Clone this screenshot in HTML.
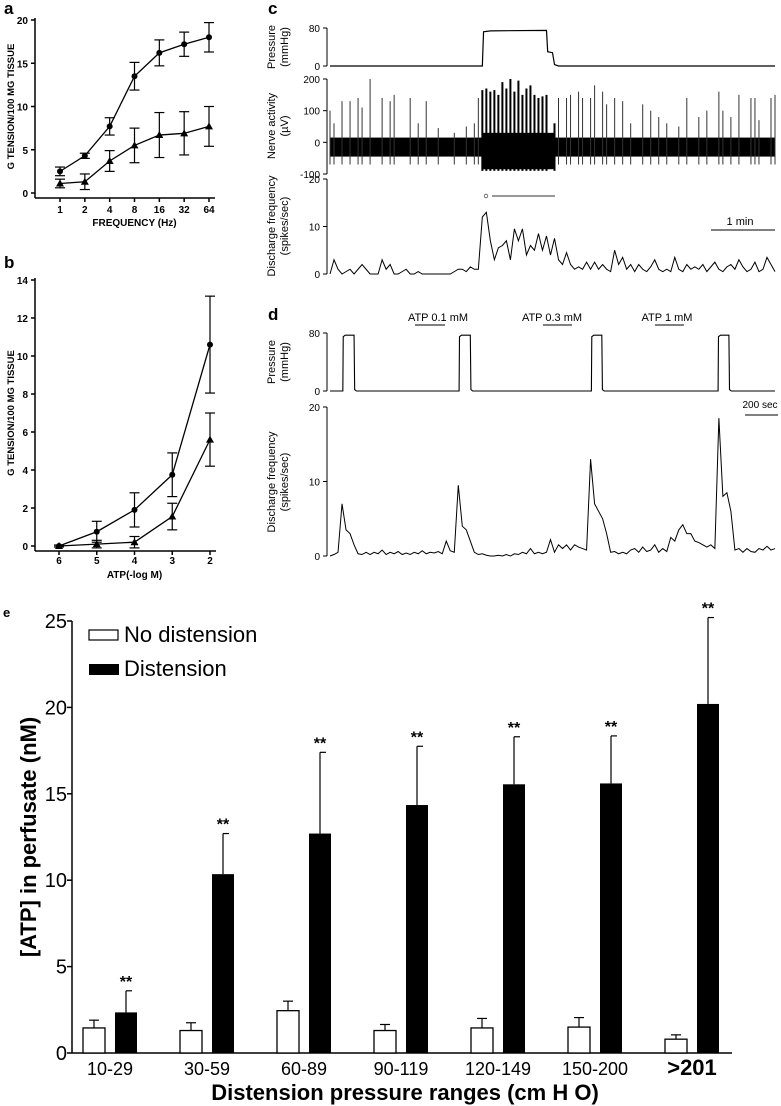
<!DOCTYPE html>
<html><head><meta charset="utf-8"><style>
html,body{margin:0;padding:0;background:#fff}
svg{display:block}
text{font-family:"Liberation Sans",sans-serif;fill:#000}
.b{font-weight:bold}
.n{font-family:"Liberation Sans Narrow","Liberation Sans",sans-serif}
</style></head><body>
<svg id="fig" width="781" height="1106" viewBox="0 0 781 1106" xmlns="http://www.w3.org/2000/svg"></svg>
<script>
// ---------- Panel a data ----------
const aFreq = ["1","2","4","8","16","32","64"];
const aCircle = [2.5,4.3,7.7,13.5,16.2,17.2,18.0];
const aCircleErr = [0.5,0.3,1.0,1.6,1.5,1.4,1.7];
const aTri = [1.1,1.3,3.7,5.5,6.7,6.9,7.7];
const aTriErr = [0.5,0.9,1.2,2.0,2.6,2.5,2.3];
const aTicks = [0,5,10,15,20];
// ---------- Panel b data ----------
const bConc = ["6","5","4","3","2"];
const bCircle = [0,0.75,1.9,3.75,10.6];
const bCircleErr = [0.05,0.55,0.9,1.15,2.55];
const bTri = [0,0.1,0.2,1.55,5.6];
const bTriErr = [0.05,0.2,0.3,0.7,1.4];
const bTicks = [0,2,4,6,8,10,12,14];
// ---------- Panel c data (time index step) ----------
const cPressT = [0,38,38.3,40,54,54.3,55.5,56,57,111];
const cPressV = [0,0,72,74,75,30,28,3,0,0];
const cSpikes = [100,60,0,130,0,130,0,140,110,0,200,0,0,140,0,130,150,0,0,0,140,0,60,0,130,0,0,45,0,0,0,30,0,0,50,0,60,140,165,170,160,165,150,190,170,200,160,195,150,170,180,150,140,145,150,0,60,140,0,140,150,0,160,140,0,140,180,0,160,120,0,140,0,130,0,60,0,0,120,0,100,0,80,0,60,0,0,50,0,140,0,0,80,0,100,0,0,160,100,0,80,0,150,0,0,140,140,70,0,0,140,150];
const cDischarge = [0,3,1,0,0.5,1,0,1,2,1,0,0,0,3,1,2,0,0,0.5,1,0,0,0.5,0,0,0,0,0,0,0,0,0.5,1,1,0.5,1.5,1,1,12,13,7,3,5.5,6,7,3,9.5,7,9.5,4,6,5,8.5,5,8,4,7.5,3,2,4.5,2,1,1.5,1,2.5,1,2.5,1,2,1,0.5,5,2,3.5,1,2,0.5,2,1,0.5,1.5,3,1,0.5,1,0.5,3.5,1,0.5,2,1,1.5,1,2,0.5,1.5,2.5,1,0.5,1.5,2,1,3,1.5,0.5,1,2.5,0.5,1,3.5,2,0.5];
// ---------- Panel d data ----------
const dPulseStart = [3.2,32.2,65.2,96.8];
const dPulseEnd = [6.0,35.0,67.8,99.5];
const dDischarge = [0,0.2,0.5,7,3.5,3,1.5,0.3,0.2,0.5,0.2,0.5,0.3,0.8,0.2,0.5,0.3,0.6,0.2,0.4,0.2,0.5,0.3,0.7,0.3,0.5,0.4,0.6,0.3,2,0.7,0.5,9.5,4,3.5,2,0.5,0.2,0.3,0.1,0,0,0.1,0,0.2,0,0.3,0.2,0.5,0.3,1,0.3,0.5,0.3,0.5,2.2,0.5,1.5,1,1.5,0.8,1.5,1.2,1,0.8,13,7,6,5,3,0.5,0.6,0.3,0.5,0.3,0.8,1,0.5,1.2,0.6,0.8,1.5,0.5,1,0.6,2.5,2,3.5,4.2,3,3,2,1.8,1.5,1.2,1.5,1,18.5,8,8.5,6,0.8,1,0.5,1,0.6,0.5,1,0.8,1.3,0.8,1];
// ---------- Panel e data ----------
const eCats = ["10-29","30-59","60-89","90-119","120-149","150-200",">201"];
const eNoDist = [1.45,1.3,2.45,1.3,1.45,1.5,0.8];
const eNoDistTop = [1.9,1.75,3.0,1.65,2.0,2.05,1.05];
const eDist = [2.35,10.35,12.7,14.35,15.55,15.6,20.2];
const eDistTop = [3.6,12.7,17.4,17.75,18.3,18.35,25.2];
const eTicks = [0,5,10,15,20,25];

const svg = document.getElementById('fig');
const NS = 'http://www.w3.org/2000/svg';
function mk(tag, attrs, parent){ const e=document.createElementNS(NS,tag); for(const k in attrs) e.setAttribute(k,attrs[k]); (parent||svg).appendChild(e); return e; }
function txt(s, attrs, parent){ const e=mk('text',attrs,parent); e.textContent=s; return e; }
function line(x1,y1,x2,y2,w,parent,col){ return mk('line',{x1,y1,x2,y2,stroke:col||'#000','stroke-width':w||1},parent); }

// ===== Panel labels =====
[['a',4,14],['b',4,268],['c',268,14],['d',268,320],['e',3,617]].forEach(p=>{
  const t=txt(p[0],{x:p[1],y:p[2],class:'b','font-size':p[0]==='e'?13:17});
  
  
});

// ===== Line chart helper for a, b =====
function lineChart(g, cats, s1, e1, s2, e2, ticks, ymax, x0, x1, yTop, yBot, axisY, xTitle, titleY, labY){
  const ax=35;
  const sx=i=>x0+(x1-x0)*i/(cats.length-1);
  const sy=v=>yBot-(yBot-yTop)*v/ymax;
  line(ax,yTop-2,ax,axisY,1.5,g);
  line(ax,axisY,x1+6,axisY,1.5,g);
  ticks.forEach(t=>{ line(ax-4,sy(t),ax,sy(t),1.5,g);
    const l=txt(String(t),{x:ax-7,y:sy(t)+4,'text-anchor':'end','font-size':10,class:'b'},g);
      });
  cats.forEach((c,i)=>{ line(sx(i),axisY,sx(i),axisY+4,1.5,g);
    const l=txt(c,{x:sx(i),y:labY,'text-anchor':'middle','font-size':10,class:'b'},g);
      });
  const xt=txt(xTitle,{x:(x0+x1)/2,y:titleY,'text-anchor':'middle','font-size':10,class:'b'},g);
   
  const yt=txt('G TENSION/100 MG TISSUE',{x:0,y:0,'text-anchor':'middle','font-size':9.5,class:'b',transform:`translate(14,${(yTop+yBot)/2}) rotate(-90)`},g);
   
  [[s1,e1,'circle'],[s2,e2,'triangle']].forEach(([s,e,kind])=>{
    const pts=s.map((v,i)=>sx(i)+','+sy(v)).join(' ');
    const pl=mk('polyline',{points:pts,fill:'none',stroke:'#000','stroke-width':1.3},g);
     
    s.forEach((v,i)=>{
      const x=sx(i);
      line(x,sy(v+e[i]),x,sy(v-e[i]),1.2,g);
      line(x-5,sy(v+e[i]),x+5,sy(v+e[i]),1.2,g);
      line(x-5,sy(v-e[i]),x+5,sy(v-e[i]),1.2,g);
      let m;
      if(kind==='circle') m=mk('circle',{cx:x,cy:sy(v),r:3,fill:'#000'},g);
      else m=mk('polygon',{points:`${x},${sy(v)-4} ${x-4},${sy(v)+3} ${x+4},${sy(v)+3}`,fill:'#000'},g);
       
    });
  });
}
const gA=mk('g',{});  
lineChart(gA,aFreq,aCircle,aCircleErr,aTri,aTriErr,aTicks,20,60,209,20,193,198,'FREQUENCY (Hz)',226,213);
const gB=mk('g',{});  
lineChart(gB,bConc,bCircle,bCircleErr,bTri,bTriErr,bTicks,14,59,210,280,546,551,'ATP(-log M)',578,564);

// ===== Trace helpers =====
const TX0=330, TX1=775, TN=111;
const tx=i=>TX0+(TX1-TX0)*i/TN;
function yAxis(g,x,yTop,yBot,ticks,vmin,vmax,fs){
  const sy=v=>yBot-(yBot-yTop)*(v-vmin)/(vmax-vmin);
  line(x,yTop,x,yBot,1,g);
  ticks.forEach(t=>{ line(x-4,sy(t),x,sy(t),1,g);
    const l=txt(String(t),{x:x-7,y:sy(t)+4,'text-anchor':'end','font-size':fs||10},g);
      });
  return sy;
}
function vTitle(g,lines,x,yc){
  lines.forEach((s,k)=>{ const t=txt(s,{x:0,y:0,'text-anchor':'middle','font-size':11,transform:`translate(${x+k*13},${yc}) rotate(-90)`},g);
      });
}

// ===== Panel c =====
const gC=mk('g',{});  
const cpY=yAxis(gC,327,28,66,[0,80],0,80);
vTitle(gC,['Pressure','(mmHg)'],275,47);
const cp=mk('polyline',{points:cPressT.map((t,i)=>tx(t)+','+cpY(cPressV[i])).join(' '),fill:'none',stroke:'#000','stroke-width':1.2},gC);
 
const cnY=yAxis(gC,327,79,174,[200,100,0,-100],-100,200);
vTitle(gC,['Nerve activity','(µV)'],275,126);
const band=mk('rect',{x:TX0,y:cnY(15),width:TX1-TX0,height:cnY(-45)-cnY(15),fill:'#000'},gC);
 
const burst=mk('rect',{x:tx(38),y:cnY(30),width:tx(56)-tx(38),height:cnY(-85)-cnY(30),fill:'#000'},gC);
 
cSpikes.forEach((v,i)=>{ if(v>0){ const inB=i>=38&&i<=56;
  const s=line(tx(i),cnY(v),tx(i),cnY(inB?-90:-70),inB?2:1,gC,inB?'#000':'#333');
    }});
const cdY=yAxis(gC,327,179,274,[0,10,20],0,20);
vTitle(gC,['Discharge frequency','(spikes/sec)'],275,226);
const cd=mk('polyline',{points:cDischarge.map((v,i)=>tx(i)+','+cdY(v)).join(' '),fill:'none',stroke:'#000','stroke-width':1},gC);
 
const oc=mk('circle',{cx:486,cy:196,r:1.8,fill:'none',stroke:'#555','stroke-width':0.8},gC);
 
const gl=line(492,196,555,196,1.5,gC,'#777');  
const sb=line(711,230,775,230,1,gC);  
const sbt=txt('1 min',{x:740,y:225,'text-anchor':'middle','font-size':11},gC);  

// ===== Panel d =====
const gD=mk('g',{});  
const dpY=yAxis(gD,327,333,391,[0,80],0,80);
vTitle(gD,['Pressure','(mmHg)'],275,362);
let pp=[[0,0]];
dPulseStart.forEach((s,k)=>{ pp.push([s,0],[s+0.1,75],[s+0.6,77],[dPulseEnd[k],77],[dPulseEnd[k]+0.15,2],[dPulseEnd[k]+0.6,0]); });
pp.push([TN,0]);
const dp=mk('polyline',{points:pp.map(p=>tx(p[0])+','+dpY(p[1])).join(' '),fill:'none',stroke:'#000','stroke-width':1.1},gD);
 
const ddY=yAxis(gD,327,407,556,[0,10,20],0,20);
vTitle(gD,['Discharge frequency','(spikes/sec)'],275,482);
const dd=mk('polyline',{points:dDischarge.map((v,i)=>tx(i)+','+ddY(v)).join(' '),fill:'none',stroke:'#000','stroke-width':1},gD);
 
[['ATP 0.1 mM',438,415,445],['ATP 0.3 mM',552,543,572],['ATP 1 mM',667,655,684]].forEach(a=>{
  const t=txt(a[0],{x:a[1],y:321,'text-anchor':'middle','font-size':11},gD);  
  const l=line(a[2],325,a[3],325,1,gD);  
});
const sb2=line(745,415,778,415,1,gD);  
const sb2t=txt('200 sec',{x:760,y:408,'text-anchor':'middle','font-size':10},gD);  

// ===== Panel e =====
const gE=mk('g',{});  
const eAx=72, eY0=1053, eYT=621, eMax=25;
const ey=v=>eY0-(eY0-eYT)*v/eMax;
const ex=i=>110+97*i;
line(eAx,eYT,eAx,eY0,1.5,gE);
line(eAx,eY0,732,eY0,1.5,gE);
eTicks.forEach(t=>{ line(eAx-5,ey(t),eAx,ey(t),1.5,gE);
  const l=txt(String(t),{x:eAx-5,y:ey(t)+7,'text-anchor':'end','font-size':20,class:'n'},gE);
    });
eCats.forEach((c,i)=>{
  const last=i===eCats.length-1;
  const l=txt(c,{x:ex(i),y:1075,'text-anchor':'middle','font-size':last?22:18,class:'n'+(last?' b':'')},gE);
   
  const cx1=ex(i)-16, cx2=ex(i)+16;
  // no distension
  line(cx1,ey(eNoDist[i]),cx1,ey(eNoDistTop[i]),1.2,gE); line(cx1-5,ey(eNoDistTop[i]),cx1+5,ey(eNoDistTop[i]),1.2,gE);
  const w=mk('rect',{x:cx1-11,y:ey(eNoDist[i]),width:22,height:eY0-ey(eNoDist[i]),fill:'#fff',stroke:'#000','stroke-width':1.3},gE);
   
  // distension
  line(cx2,ey(eDist[i]),cx2,ey(eDistTop[i]),1.2,gE); line(cx2,ey(eDistTop[i]),cx2+6,ey(eDistTop[i]),1.2,gE);
  const b=mk('rect',{x:cx2-11,y:ey(eDist[i]),width:22,height:eY0-ey(eDist[i]),fill:'#000'},gE);
   
  const s=txt('**',{x:cx2,y:ey(eDistTop[i])-4,'text-anchor':'middle','font-size':16,class:'b'},gE);
   
});
const eyt=txt('[ATP] in perfusate (nM)',{x:0,y:0,'text-anchor':'middle','font-size':22,class:'b',transform:`translate(36,${(eYT+eY0)/2}) rotate(-90)`},gE);
 
const ext=txt('Distension pressure ranges (cm H O)',{x:405,y:1100,'text-anchor':'middle','font-size':22,class:'b n'},gE);
 
const lg=mk('g',{},gE);  
const l1=mk('rect',{x:89,y:630,width:29,height:10,fill:'#fff',stroke:'#000','stroke-width':1.2},lg);  
const l1t=txt('No distension',{x:124,y:642,'font-size':22,class:'n'},lg);  
const l2=mk('rect',{x:89,y:664,width:30,height:11,fill:'#000'},lg);  
const l2t=txt('Distension',{x:124,y:676,'font-size':22,class:'n'},lg);  
</script>
</body></html>
